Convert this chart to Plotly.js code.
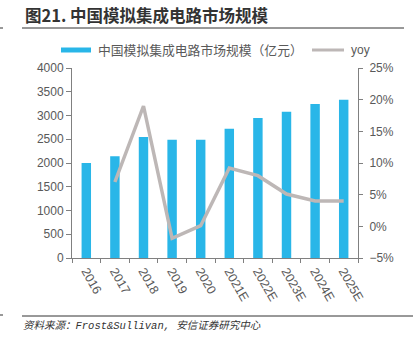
<!DOCTYPE html>
<html>
<head>
<meta charset="utf-8">
<script src="https://cdn.plot.ly/plotly-3.0.1.min.js"></script>
<style>html,body{margin:0;padding:0;background:#fff;}#chart{width:416px;height:337px;}</style>
</head>
<body>
<div id="chart"></div>
<script>
// ---- data ----
const categories = ['2016','2017','2018','2019','2020','2021E','2022E','2023E','2024E','2025E'];
const marketSize = [2000, 2140, 2550, 2490, 2490, 2720, 2950, 3080, 3240, 3330];
const yoy = [null, 0.07, 0.19, -0.019, 0.001, 0.092, 0.08, 0.051, 0.04, 0.04];
const leftTicks = [0, 500, 1000, 1500, 2000, 2500, 3000, 3500, 4000];
const rightTicks = [-0.05, 0, 0.05, 0.10, 0.15, 0.20, 0.25];

const titleText = '图21. 中国模拟集成电路市场规模';
const barName = '中国模拟集成电路市场规模（亿元）';
const lineName = 'yoy';
const sourceText = '资料来源：Frost&Sullivan, 安信证券研究中心';

// ---- layout helpers (pixel -> paper) ----
const W = 416, H = 337;
const M = {l: 72, r: 58, t: 68, b: 79};
const PW = W - M.l - M.r, PH = H - M.t - M.b;
const px = v => (v - M.l) / PW;
const py = v => (H - M.b - v) / PH;

const BLUE = '#29B6E8';
const GRAY = '#BDB7B6';
const AX = '#808080';
const TXT = '#595959';
const FONT = 'Liberation Sans, Arial, Noto Sans CJK SC, sans-serif';
const CJK = 'Noto Sans CJK SC, sans-serif';

const traces = [
  {
    type: 'bar', x: categories, y: marketSize, name: barName,
    marker: {color: BLUE}, yaxis: 'y', showlegend: false, hoverinfo: 'none'
  },
  {
    type: 'scatter', mode: 'lines', x: categories, y: yoy, name: lineName,
    line: {color: GRAY, width: 3.5}, yaxis: 'y2', showlegend: false, hoverinfo: 'none'
  }
];

const layout = {
  width: W, height: H,
  margin: M,
  paper_bgcolor: '#fff', plot_bgcolor: '#fff',
  font: {family: FONT, size: 12, color: TXT},
  bargap: 0.67,
  showlegend: false,
  xaxis: {
    type: 'category', showline: true, linecolor: AX, linewidth: 1,
    ticks: 'outside', tickson: 'boundaries', ticklen: 4, tickcolor: AX,
    tickangle: 60, tickfont: {family: FONT, size: 12.5, color: TXT},
    showgrid: false, zeroline: false, fixedrange: true
  },
  yaxis: {
    range: [0, 4000], tickvals: leftTicks, ticktext: leftTicks.map(String),
    showline: true, linecolor: AX, linewidth: 1, ticks: 'outside', ticklen: 5, tickcolor: AX,
    showgrid: false, zeroline: false, tickfont: {family: FONT, size: 12, color: TXT}
  },
  yaxis2: {
    range: [-0.05, 0.25], tickvals: rightTicks, tickformat: '.0%',
    overlaying: 'y', side: 'right', anchor: 'x',
    showline: true, linecolor: AX, linewidth: 1, ticks: 'outside', ticklen: 4, tickcolor: AX,
    ticklabelstandoff: 4,
    showgrid: false, zeroline: false, tickfont: {family: FONT, size: 12, color: TXT}
  },
  shapes: [
    // title underline
    {type: 'line', xref: 'paper', yref: 'paper', x0: px(22), x1: px(404), y0: py(28), y1: py(28), line: {color: '#333', width: 1}},
    {type: 'line', xref: 'paper', yref: 'paper', x0: px(0), x1: px(3), y0: py(28), y1: py(28), line: {color: '#333', width: 1}},
    // source line
    {type: 'line', xref: 'paper', yref: 'paper', x0: px(22), x1: px(413), y0: py(316), y1: py(316), line: {color: '#333', width: 1}},
    {type: 'line', xref: 'paper', yref: 'paper', x0: px(0), x1: px(3), y0: py(315), y1: py(315), line: {color: '#333', width: 1}},
    // legend swatches
    {type: 'rect', xref: 'paper', yref: 'paper', x0: px(61), x1: px(91), y0: py(52.5), y1: py(47.5), fillcolor: BLUE, line: {width: 0}},
    {type: 'line', xref: 'paper', yref: 'paper', x0: px(312), x1: px(344), y0: py(50), y1: py(50), line: {color: GRAY, width: 3}}
  ],
  annotations: [
    {text: '<b>' + titleText + '</b>', xref: 'paper', yref: 'paper', x: px(23), y: py(15), xanchor: 'left', yanchor: 'middle', showarrow: false, font: {family: CJK, size: 16.5, color: '#333'}},
    {text: barName, xref: 'paper', yref: 'paper', x: px(96), y: py(50), xanchor: 'left', yanchor: 'middle', showarrow: false, font: {family: CJK, size: 12.8, color: TXT}},
    {text: lineName, xref: 'paper', yref: 'paper', x: px(349), y: py(50), xanchor: 'left', yanchor: 'middle', showarrow: false, font: {family: FONT, size: 12, color: TXT}},
    {text: '<i>' + sourceText + '</i>', xref: 'paper', yref: 'paper', x: px(21), y: py(326), xanchor: 'left', yanchor: 'middle', showarrow: false, font: {family: 'Liberation Mono, Noto Sans CJK SC, monospace', size: 10.5, color: '#333'}}
  ]
};

Plotly.newPlot('chart', traces, layout, {displayModeBar: false, staticPlot: true});
</script>
</body>
</html>
